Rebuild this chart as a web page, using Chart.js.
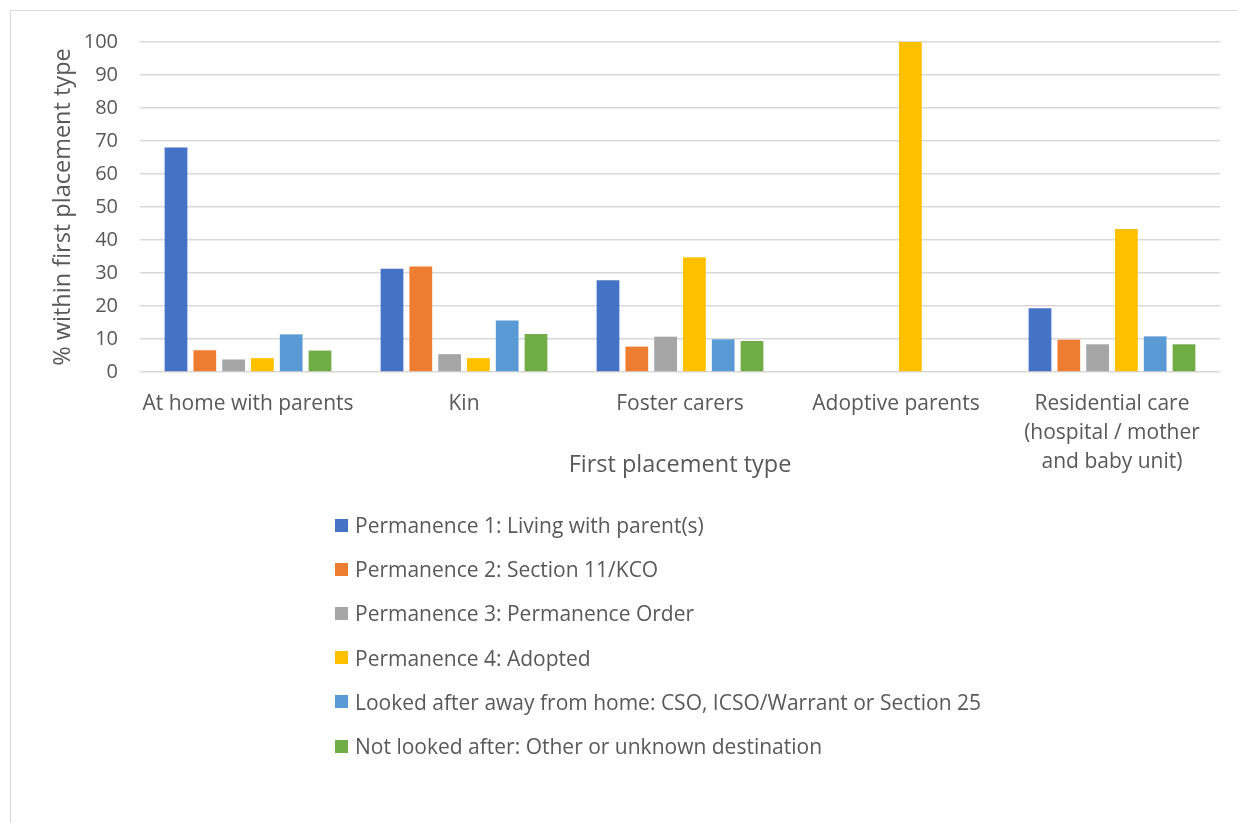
<!DOCTYPE html>
<html>
<head>
<meta charset="utf-8">
<script src="https://cdn.jsdelivr.net/npm/chart.js@4"></script>
<style>
  body { margin: 0; background: #fff; }
  #frame { position: absolute; left: 10px; top: 10px; width: 1240px; height: 830px; border: 1px solid #d9d9d9; box-sizing: border-box; }
  #wrap { position: absolute; left: 0; top: 0; width: 1237px; height: 823px; }
  #legend { position: absolute; left: 335px; top: 503px; font-family: 'Open Sans', sans-serif; font-size: 21px; color: #595959; }
  .item { height: 44.2px; display: flex; align-items: center; }
  .box { width: 13px; height: 13px; margin-right: 7px; }
</style>
</head>
<body>
<div id="frame"></div>
<div id="wrap"><canvas id="chart" width="1237" height="823"></canvas></div>
<div id="legend"></div>
<script>
// Categories and series (% within first placement type)
const categories = [
  'At home with parents',
  'Kin',
  'Foster carers',
  'Adoptive parents',
  ['Residential care', '(hospital / mother', 'and baby unit)'],
];
const seriesNames = [
  'Permanence 1: Living with parent(s)',
  'Permanence 2: Section 11/KCO',
  'Permanence 3: Permanence Order',
  'Permanence 4: Adopted',
  'Looked after away from home: CSO, ICSO/Warrant or Section 25',
  'Not looked after: Other or unknown destination',
];
const perm1 = [68.0, 31.3, 27.8, 0, 19.3];
const perm2 = [6.6, 32.0, 7.7, 0, 9.8];
const perm3 = [3.8, 5.4, 10.7, 0, 8.4];
const perm4 = [4.2, 4.2, 34.8, 100, 43.3];
const lookedAfter = [11.4, 15.6, 9.9, 0, 10.8];
const notLookedAfter = [6.5, 11.5, 9.4, 0, 8.4];
const yTicks = [0, 10, 20, 30, 40, 50, 60, 70, 80, 90, 100];

const colors = ['#4472C4', '#ED7D31', '#A5A5A5', '#FFC000', '#5B9BD5', '#70AD47'];
const values = [perm1, perm2, perm3, perm4, lookedAfter, notLookedAfter];

const textColor = '#595959';
const gridColor = '#d9d9d9';
const fontFamily = "'Open Sans', sans-serif";

const datasets = values.map((data, i) => ({
  label: seriesNames[i],
  data: data,
  backgroundColor: colors[i],
  borderWidth: 0,
  categoryPercentage: 0.8,
  barPercentage: 0.79,
}));

const ctx = document.getElementById('chart').getContext('2d');
const chart = new Chart(ctx, {
  type: 'bar',
  data: { labels: categories, datasets: datasets },
  options: {
    responsive: false,
    animation: false,
    layout: { padding: { left: 49, right: 17, top: 42, bottom: 344 } },
    plugins: { legend: { display: false }, tooltip: { enabled: false } },
    scales: {
      x: {
        grid: { display: false },
        border: { display: false },
        ticks: {
          color: textColor,
          autoSkip: false,
          maxRotation: 0,
          padding: 10,
          font: { family: fontFamily, size: 21, lineHeight: 1.38 },
        },
        title: {
          display: true,
          text: 'First placement type',
          color: textColor,
          font: { family: fontFamily, size: 23.5 },
          padding: 0,
        },
        afterFit: (scale) => { scale.height = 107; },
      },
      y: {
        min: 0,
        max: 100,
        afterBuildTicks: (scale) => { scale.ticks = yTicks.map((v) => ({ value: v })); },
        grid: { color: gridColor, lineWidth: 1.5, drawTicks: false },
        border: { display: false },
        ticks: {
          color: textColor,
          padding: 22,
          font: { family: fontFamily, size: 20 },
        },
        title: {
          display: true,
          text: '% within first placement type',
          color: textColor,
          font: { family: fontFamily, size: 23.5 },
          padding: 0,
        },
        afterFit: (scale) => { scale.width = 91; },
      },
    },
  },
});

// Legend as a vertical list below the chart
const legend = document.getElementById('legend');
chart.data.datasets.forEach((ds) => {
  const item = document.createElement('div');
  item.className = 'item';
  const box = document.createElement('span');
  box.className = 'box';
  box.style.background = ds.backgroundColor;
  const label = document.createElement('span');
  label.textContent = ds.label;
  item.appendChild(box);
  item.appendChild(label);
  legend.appendChild(item);
});
</script>
</body>
</html>
